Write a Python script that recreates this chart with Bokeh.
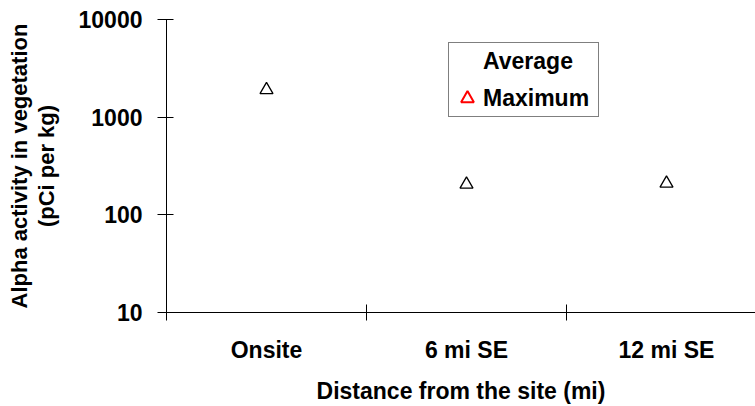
from bokeh.plotting import figure
from bokeh.models import Range1d, FixedTicker, Legend, LegendItem, ColumnDataSource, PrintfTickFormatter
from bokeh.embed import file_html
from bokeh.resources import INLINE

categories = ["Onsite", "6 mi SE", "12 mi SE"]
average = [1900, 205, 210]
maximum = [1900, 205, 210]  # hidden beneath the average markers in the chart
y_ticks = [10, 100, 1000, 10000]
y_tick_labels = ["10", "100", "1000", "10000"]

FONT = "Liberation Sans"

p = figure(width=755, height=406, y_axis_type="log",
           x_range=Range1d(0, 2.945), y_range=Range1d(10, 10000),
           output_backend="svg", toolbar_location=None,
           min_border_left=166, min_border_right=0,
           min_border_top=19, min_border_bottom=93)
p.outline_line_color = None
p.xgrid.visible = False
p.ygrid.visible = False

x_pos = [i + 0.5 for i in range(len(categories))]

max_src = ColumnDataSource(dict(x=x_pos, y=maximum))
mx = p.scatter("x", "y", source=max_src, marker="triangle", size=13,
               fill_color=None, line_color="red", line_width=2)
mx.visible = False

p.scatter(x_pos, average, marker="triangle", size=13, fill_color=None,
          line_color="black", line_width=1.3)

avg_dummy = p.scatter(x=x_pos, y=average, marker="triangle",
                      fill_alpha=0, line_alpha=0)

# x axis
p.xaxis.ticker = FixedTicker(ticks=x_pos, minor_ticks=list(range(len(categories) + 1)))
p.xaxis.major_label_overrides = {x: c for x, c in zip(x_pos, categories)}
p.xaxis.major_tick_in = 0
p.xaxis.major_tick_out = 0
p.xaxis.minor_tick_in = 8
p.xaxis.minor_tick_out = 8
p.xaxis.major_label_standoff = 16
p.xaxis.axis_label = "Distance from the site (mi)"
p.xaxis.axis_label_standoff = 12

# y axis
p.yaxis.ticker = FixedTicker(ticks=y_ticks, minor_ticks=[])
p.yaxis.formatter = PrintfTickFormatter(format="%d")
p.yaxis.major_label_overrides = {t: l for t, l in zip(y_ticks, y_tick_labels)}
p.yaxis.major_tick_in = 7
p.yaxis.major_tick_out = 9
p.yaxis.major_label_standoff = 15
p.yaxis.axis_label = "Alpha activity in vegetation\n(pCi per kg)"
p.yaxis.axis_label_standoff = 17
p.yaxis.axis_label_text_line_height = 1.05

for ax in (p.xaxis, p.yaxis):
    ax.axis_line_color = "black"
    ax.major_tick_line_color = "black"
    ax.minor_tick_line_color = "black"
    ax.major_label_text_font = FONT
    ax.major_label_text_font_style = "bold"
    ax.major_label_text_font_size = "23px"
    ax.major_label_text_color = "black"
    ax.axis_label_text_font = FONT
    ax.axis_label_text_font_style = "bold"
    ax.axis_label_text_color = "black"
p.xaxis.axis_label_text_font_size = "23px"
p.yaxis.axis_label_text_font_size = "22px"

legend = Legend(items=[LegendItem(label="Average", renderers=[avg_dummy]),
                       LegendItem(label="Maximum", renderers=[mx])],
                location=(282, 195))
legend.border_line_color = "black"
legend.border_line_width = 1
legend.background_fill_color = "white"
legend.background_fill_alpha = 1
legend.inactive_fill_alpha = 0
legend.label_text_font = FONT
legend.label_text_font_style = "bold"
legend.label_text_font_size = "23px"
legend.label_text_color = "black"
legend.glyph_width = 32
legend.glyph_height = 32
legend.label_height = 32
legend.label_width = 113
legend.spacing = 5
legend.padding = 2
legend.margin = 0
legend.label_standoff = 0
p.add_layout(legend)

open("out.html", "w").write(file_html(p, INLINE))
